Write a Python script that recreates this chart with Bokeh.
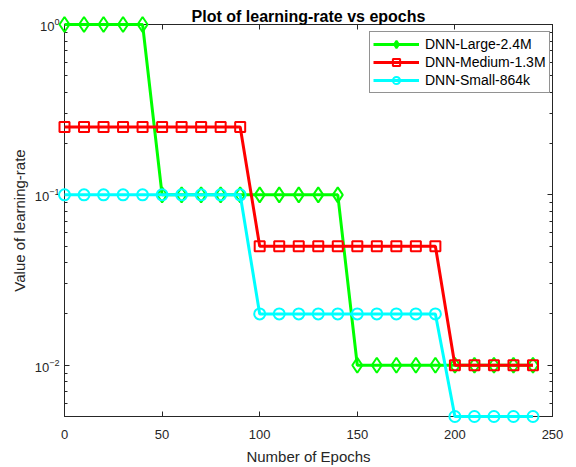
from bokeh.plotting import figure
from bokeh.models import (Range1d, LinearAxis, LogAxis, SingleIntervalTicker, LogTicker,
                          Legend, LegendItem, CustomJSTickFormatter)
from bokeh.embed import file_html
from bokeh.resources import INLINE

epochs = [0, 10, 20, 30, 40, 50, 60, 70, 80, 90, 100, 110, 120, 130, 140, 150, 160, 170, 180, 190, 200, 210, 220, 230, 240]
lr_large = [1.0] * 5 + [0.1] * 10 + [0.01] * 10
lr_medium = [0.25] * 10 + [0.05] * 10 + [0.01] * 5
lr_small = [0.1] * 10 + [0.02] * 10 + [0.005] * 5
series_names = ["DNN-Large-2.4M", "DNN-Medium-1.3M", "DNN-Small-864k"]

FONT = "Liberation Sans"
AX = "#262626"

p = figure(width=576, height=467, output_backend="svg", toolbar_location=None,
           y_axis_type="log", x_range=Range1d(0, 250), y_range=Range1d(0.005, 1.0),
           min_border_left=64, min_border_right=24, min_border_top=24, min_border_bottom=49,
           title="Plot of learning-rate vs epochs")
p.title.align = "center"
p.title.text_font = FONT
p.title.text_font_size = "16px"
p.title.text_font_style = "bold"
p.title.text_color = "black"
p.title.standoff = 0
p.grid.visible = False
p.outline_line_color = AX

p.xaxis.ticker = SingleIntervalTicker(interval=50, num_minor_ticks=0)
p.yaxis.ticker = LogTicker(num_minor_ticks=10)
p.xaxis.axis_label = "Number of Epochs"
p.yaxis.axis_label = "Value of learning-rate"
for ax in (p.xaxis[0], p.yaxis[0]):
    ax.axis_line_color = AX
    ax.major_tick_line_color = AX
    ax.minor_tick_line_color = AX
    ax.major_tick_in = 5
    ax.major_tick_out = 0
    ax.minor_tick_in = 3
    ax.minor_tick_out = 0
    ax.major_label_text_font = FONT
    ax.major_label_text_font_size = "13px"
    ax.major_label_text_color = AX
    ax.axis_label_text_font = FONT
    ax.axis_label_text_font_size = "15px"
    ax.axis_label_text_font_style = "normal"
    ax.axis_label_text_color = AX
p.xaxis.major_label_standoff = 13
p.xaxis.axis_label_standoff = 6
p.yaxis.major_label_standoff = 5
p.yaxis.axis_label_standoff = 4

top = LinearAxis(ticker=SingleIntervalTicker(interval=50, num_minor_ticks=0),
                 formatter=CustomJSTickFormatter(code="return ''"), major_label_standoff=0,
                 major_tick_in=5, major_tick_out=0,
                 minor_tick_in=0, minor_tick_out=0, axis_line_color=AX, major_tick_line_color=AX)
right = LogAxis(ticker=LogTicker(num_minor_ticks=10), formatter=CustomJSTickFormatter(code="return ''"),
                major_label_standoff=0,
                major_tick_in=5, major_tick_out=0, minor_tick_in=3, minor_tick_out=0,
                axis_line_color=AX, major_tick_line_color=AX, minor_tick_line_color=AX)
p.add_layout(top, "above")
p.add_layout(right, "right")

colors = ["#00ff00", "#ff0000", "#00ffff"]
ys = [lr_large, lr_medium, lr_small]
markers = ["diamond", "square", "circle"]
sizes = [15, 10, 11]
items = []
for name, y, c, m, s in zip(series_names, ys, colors, markers, sizes):
    l = p.line(epochs, y, line_color=c, line_width=3, level="overlay")
    sc = p.scatter(epochs, y, marker=m, size=s, line_color=c, line_width=2, fill_alpha=0,
                   level="overlay")
    items.append(LegendItem(label=name, renderers=[l, sc]))

legend = Legend(items=items, location=(305, 323), padding=3, spacing=0,
                glyph_width=46, glyph_height=18, label_height=18, label_standoff=6,
                label_text_font=FONT, label_text_font_size="14px", label_text_color="black",
                border_line_color=AX, border_line_width=1, background_fill_alpha=1, margin=0)
p.add_layout(legend, "center")

open("out.html", "w").write(file_html(p, INLINE))
